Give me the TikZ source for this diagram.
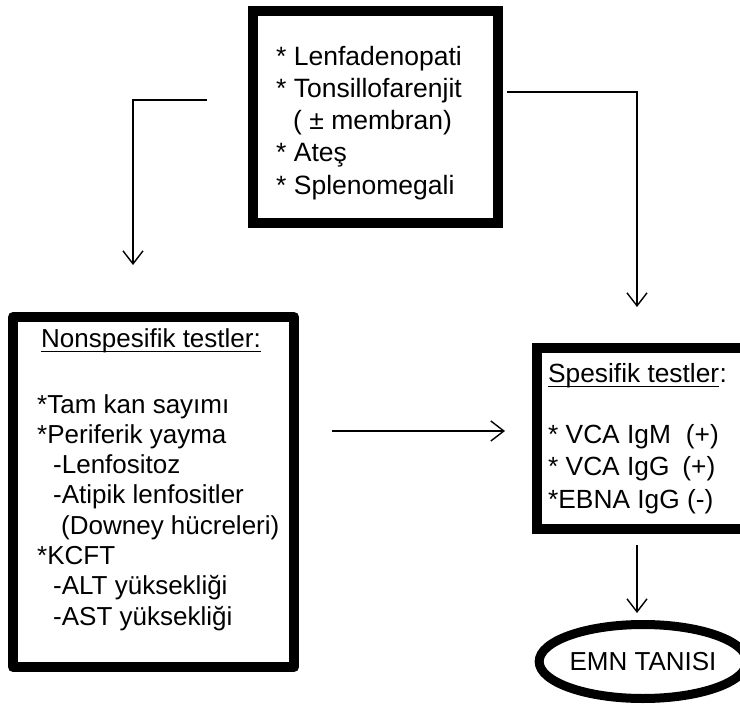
\documentclass[tikz,border=0pt]{standalone}
\usepackage{fontspec}
\setmainfont{Liberation Sans}
\usetikzlibrary{arrows.meta,shapes.geometric}
\tikzset{
  box/.style={draw, rectangle, line width=10pt, inner sep=0pt},
  txt/.style={anchor=base west, inner sep=0pt},
  conn/.style={line width=1.4pt},
  arr/.style={conn, -{Straight Barb[length=13pt,width=20pt]}},
  uln/.style={line width=1.6pt},
}
\newcommand{\fsA}{\fontsize{26.5}{32.3}\selectfont}
\newcommand{\fsB}{\fontsize{26}{30.3}\selectfont}
\newcommand{\fsC}{\fontsize{26.3}{32.5}\selectfont}
\begin{document}
\begin{tikzpicture}[x=1pt,y=-1pt]
\clip (0,0) rectangle (740,707);
\fill[white] (0,0) rectangle (740,707);

% boxes
\node[box, minimum width=245pt, minimum height=212pt] (sym) at (375.5,117) {};
\node[box, minimum width=281pt, minimum height=350pt, line join=round] (ns) at (153.5,492) {};
\node[box, minimum width=213pt, minimum height=181pt] (sp) at (643.5,438.5) {};
\node[draw, ellipse, line width=9pt, minimum width=173pt, minimum height=74pt, inner sep=0pt, font=\fontsize{26}{30}\selectfont] (emn) at (643,661.5) {EMN TANISI};

% top box text
\node[txt, font=\fsA] (symtxt) at (276,65) {\begin{tabular}[t]{@{}l@{}}
{*} Lenfadenopati\\
{*} Tonsillofarenjit\\
\hspace{17pt}( ± membran)\\
{*} Ateş\\
{*} Splenomegali
\end{tabular}};

% nonspesifik text
\node[txt, font=\fsB] (nshead) at (41,347) {Nonspesifik testler:};
\draw[uln] ([yshift=-4.5pt]nshead.base west) -- ([yshift=-4.5pt]nshead.base east);
\node[txt, font=\fsB] (nstxt) at (37,413) {\begin{tabular}[t]{@{}l@{}}
{*}Tam kan sayımı\\
{*}Periferik yayma\\
\hspace{16pt}-Lenfositoz\\
\hspace{16pt}-Atipik lenfositler\\
\hspace{24pt}(Downey hücreleri)\\
{*}KCFT\\
\hspace{16pt}-ALT yüksekliği\\
\hspace{16pt}-AST yüksekliği
\end{tabular}};

% spesifik text
\node[txt, font=\fsC] (sphead) at (548,382) {Spesifik testler};
\node[txt, font=\fsC] (spcolon) at (sphead.base east) {:};
\draw[uln] ([yshift=-4.5pt]sphead.base west) -- ([yshift=-4.5pt]sphead.base east);
\node[txt, font=\fsC] (sptxt) at (548,443) {\begin{tabular}[t]{@{}l@{}}
{*} VCA IgM\hspace{15pt}(+)\\
{*} VCA IgG\hspace{13pt}(+)\\
{*}EBNA IgG (-)
\end{tabular}};

% connectors
\coordinate (l0) at (207,100);
\coordinate (l1) at (133,265);
\draw[arr] (l0) -| (l1);
\coordinate (r0) at (507,92);
\coordinate (r1) at (637,307);
\draw[arr] (r0) -| (r1);
\coordinate (m0) at (332,431);
\coordinate (m1) at (505,431);
\draw[arr] (m0) -- (m1);
\coordinate (b0) at (637,545);
\coordinate (b1) at (637,613);
\draw[arr] (b0) -- (b1);
\end{tikzpicture}
\end{document}
